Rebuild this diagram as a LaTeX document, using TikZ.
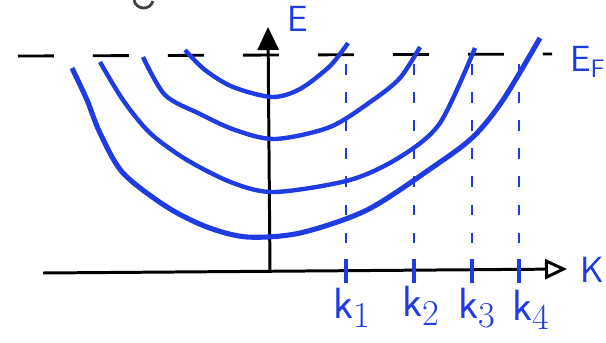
\documentclass[tikz,border=0pt]{standalone}
\usepackage{amsmath}
\usepackage{amssymb}
\usepackage{tikz}
\usetikzlibrary{arrows.meta}
\definecolor{pen}{RGB}{30,60,225}

\begin{document}
\begin{tikzpicture}[x=0.02cm, y=-0.02cm, font=\huge\sffamily]
    \useasboundingbox (0,0) rectangle (606,342);

    % Ejes
    \coordinate (kini) at (43,273);
    \coordinate (kfin) at (567,269);
    \coordinate (eini) at (270,272);
    \coordinate (efin) at (268,27);
    \draw[line width=1.7pt, -{Triangle[open, length=0.44cm, width=0.4cm]}] (kini) -- (kfin);
    \draw[line width=1.7pt, -{Triangle[length=0.46cm, width=0.42cm]}] (eini) -- (efin);
    \node[pen, anchor=west] (klab) at (574,270) {K};
    \node[pen] (elab) at (298,19) {E};

    % Nivel de Fermi
    \coordinate (fini) at (18,56);
    \coordinate (ffin) at (552,54);
    \draw[line width=1.6pt, dash pattern=on 0.72cm off 0.78cm] (fini) -- (ffin);
    \node[pen, anchor=west] (eflab) at (564,62) {$\mathsf{E}_\mathsf{F}$};

    % Bandas (parabolas)
    \draw[pen, line width=2.5pt, smooth] plot coordinates {(185,50) (205,70) (233,87) (272,97) (300,89) (330,66) (348,43)};
    \draw[pen, line width=2.5pt, smooth] plot coordinates {(143,57) (165,95) (200,114) (235,130) (275,139) (330,127) (373,100) (400,78) (420,47)};
    \draw[pen, line width=2.5pt, smooth] plot coordinates {(100,62) (123,100) (150,133) (187,160) (233,183) (275,192) (350,180) (400,157) (440,123) (475,48)};
    \draw[pen, line width=2.9pt, smooth] plot coordinates {(72,68) (87,100) (100,133) (123,173) (167,207) (207,227) (247,237) (300,233) (367,210) (433,167) (473,137) (503,100) (540,38)};

    % Valores k_i
    \foreach \x/\n/\lx/\ly in {346/1/352/308, 414/2/421/306, 472/3/477/308, 519/4/531/310} {
        \coordinate (f\n) at (\x,64);
        \coordinate (t\n) at (\x,272);
        \draw[pen, line width=1.2pt, dash pattern=on 6pt off 10pt] (f\n) -- (t\n);
        \draw[pen, line width=2.6pt] (\x,259) -- (\x,283);
        \node[pen, font=\Huge\sffamily] (k\n) at (\lx,\ly) {$\mathsf{k}_{\n}$};
    }

    % Trazo cortado arriba
    \draw[black!75, line width=1.6pt] (134,0) .. controls (136,10) and (150,11) .. (153,1);
\end{tikzpicture}
\end{document}
